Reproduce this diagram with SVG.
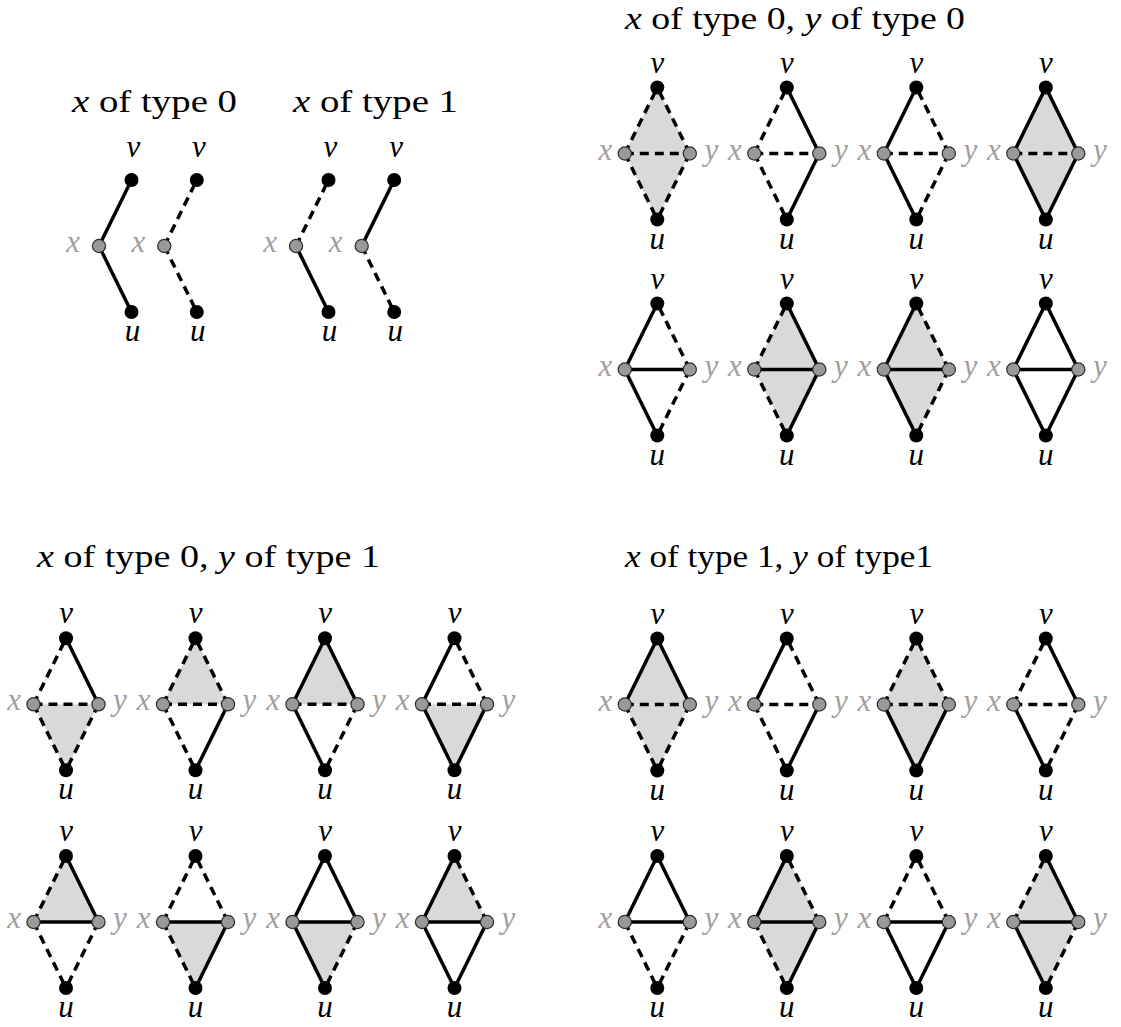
<svg xmlns="http://www.w3.org/2000/svg" xmlns:xlink="http://www.w3.org/1999/xlink" width="1121" height="1027" viewBox="0 0 1121 1027">
<style>
.e{fill:none;stroke:#000;stroke-width:3.5}
.d{stroke-dasharray:9 6}
.sh{fill:#d9d9d9;stroke:none}
.bn{fill:#000}
.gn{fill:#999;stroke:#2a2a2a;stroke-width:1.2}
.lb{font-family:"Liberation Serif",serif;font-style:italic;font-size:31px;text-anchor:middle;fill:#000}
.g{fill:#a0a0a0}
.t{font-family:"Liberation Serif",serif;font-size:32px;fill:#000}
.i{font-style:italic}
</style>
<defs>
<path id="up" d="M-32.5,0 L0,-66 L32.5,0 Z"/>
<path id="lo" d="M-32.5,0 L0,66 L32.5,0 Z"/>
<path id="exv" d="M-32.5,0 L0,-66"/>
<path id="eyv" d="M32.5,0 L0,-66"/>
<path id="exy" d="M-32.5,0 L32.5,0"/>
<path id="exu" d="M-32.5,0 L0,66"/>
<path id="eyu" d="M32.5,0 L0,66"/>
<circle id="bn" r="7"/>
<circle id="gn" r="6.6"/>
<g id="nodes">
<g><use href="#bn" class="bn" y="-66"/><text class="lb" y="-81">v</text></g>
<g><use href="#gn" class="gn" x="-32.5"/><text class="lb g" x="-52" y="6">x</text></g>
<g><use href="#gn" class="gn" x="32.5"/><text class="lb g" x="54" y="6">y</text></g>
<g><use href="#bn" class="bn" y="66"/><text class="lb" y="95">u</text></g>
</g>
<g id="pnodes">
<g><use href="#bn" class="bn" x="32.5" y="-66"/><text class="lb" x="34.5" y="-89">v</text></g>
<g><use href="#gn" class="gn"/><text class="lb g" x="-26" y="6">x</text></g>
<g><use href="#bn" class="bn" x="32.5" y="66"/><text class="lb" x="33.5" y="95">u</text></g>
</g>
</defs>

<g id="titles">
<text class="t" x="72" y="112" textLength="165" lengthAdjust="spacingAndGlyphs"><tspan class="i">x</tspan> of type 0</text>
<text class="t" x="293" y="112" textLength="165" lengthAdjust="spacingAndGlyphs"><tspan class="i">x</tspan> of type 1</text>
<text class="t" x="625" y="29" textLength="340" lengthAdjust="spacingAndGlyphs"><tspan class="i">x</tspan> of type 0, <tspan class="i">y</tspan> of type 0</text>
<text class="t" x="37" y="567" textLength="343" lengthAdjust="spacingAndGlyphs"><tspan class="i">x</tspan> of type 0, <tspan class="i">y</tspan> of type 1</text>
<text class="t" x="625" y="567" textLength="308" lengthAdjust="spacingAndGlyphs"><tspan class="i">x</tspan> of type 1, <tspan class="i">y</tspan> of type1</text>
</g>

<!-- top-left: single vertex x -->
<g id="p1" transform="translate(99,246)">
<g class="connectors"><path class="e" d="M0,0 L32.5,-66"/><path class="e" d="M0,0 L32.5,66"/></g>
<use href="#pnodes"/>
</g>
<g id="p2" transform="translate(164.3,246)">
<g class="connectors"><path class="e d" d="M0,0 L32.5,-66"/><path class="e d" d="M0,0 L32.5,66"/></g>
<use href="#pnodes"/>
</g>
<g id="p3" transform="translate(296,246)">
<g class="connectors"><path class="e d" d="M0,0 L32.5,-66"/><path class="e" d="M0,0 L32.5,66"/></g>
<use href="#pnodes"/>
</g>
<g id="p4" transform="translate(361.7,246)">
<g class="connectors"><path class="e" d="M0,0 L32.5,-66"/><path class="e d" d="M0,0 L32.5,66"/></g>
<use href="#pnodes"/>
</g>

<!-- top-right: x type 0, y type 0 -->
<g id="a1" transform="translate(657.3,153.5)">
<use href="#up" class="sh"/><use href="#lo" class="sh"/>
<g class="connectors"><use href="#exv" class="e d"/><use href="#eyv" class="e d"/><use href="#exy" class="e d"/><use href="#exu" class="e d"/><use href="#eyu" class="e d"/></g>
<use href="#nodes"/>
</g>
<g id="a2" transform="translate(786.8,153.5)">
<g class="connectors"><use href="#exv" class="e d"/><use href="#eyv" class="e"/><use href="#exy" class="e d"/><use href="#exu" class="e d"/><use href="#eyu" class="e"/></g>
<use href="#nodes"/>
</g>
<g id="a3" transform="translate(916.3,153.5)">
<g class="connectors"><use href="#exv" class="e"/><use href="#eyv" class="e d"/><use href="#exy" class="e d"/><use href="#exu" class="e"/><use href="#eyu" class="e d"/></g>
<use href="#nodes"/>
</g>
<g id="a4" transform="translate(1045.8,153.5)">
<use href="#up" class="sh"/><use href="#lo" class="sh"/>
<g class="connectors"><use href="#exv" class="e"/><use href="#eyv" class="e"/><use href="#exy" class="e d"/><use href="#exu" class="e"/><use href="#eyu" class="e"/></g>
<use href="#nodes"/>
</g>
<g id="a5" transform="translate(657.3,369.5)">
<g class="connectors"><use href="#exv" class="e"/><use href="#eyv" class="e d"/><use href="#exy" class="e"/><use href="#exu" class="e"/><use href="#eyu" class="e d"/></g>
<use href="#nodes"/>
</g>
<g id="a6" transform="translate(786.8,369.5)">
<use href="#up" class="sh"/><use href="#lo" class="sh"/>
<g class="connectors"><use href="#exv" class="e d"/><use href="#eyv" class="e"/><use href="#exy" class="e"/><use href="#exu" class="e d"/><use href="#eyu" class="e"/></g>
<use href="#nodes"/>
</g>
<g id="a7" transform="translate(916.3,369.5)">
<use href="#up" class="sh"/><use href="#lo" class="sh"/>
<g class="connectors"><use href="#exv" class="e"/><use href="#eyv" class="e d"/><use href="#exy" class="e"/><use href="#exu" class="e"/><use href="#eyu" class="e d"/></g>
<use href="#nodes"/>
</g>
<g id="a8" transform="translate(1045.8,369.5)">
<g class="connectors"><use href="#exv" class="e"/><use href="#eyv" class="e"/><use href="#exy" class="e"/><use href="#exu" class="e"/><use href="#eyu" class="e"/></g>
<use href="#nodes"/>
</g>

<!-- bottom-left: x type 0, y type 1 -->
<g id="b1" transform="translate(66,704.3)">
<use href="#lo" class="sh"/>
<g class="connectors"><use href="#exv" class="e d"/><use href="#eyv" class="e"/><use href="#exy" class="e d"/><use href="#exu" class="e d"/><use href="#eyu" class="e d"/></g>
<use href="#nodes"/>
</g>
<g id="b2" transform="translate(195.5,704.3)">
<use href="#up" class="sh"/>
<g class="connectors"><use href="#exv" class="e d"/><use href="#eyv" class="e d"/><use href="#exy" class="e d"/><use href="#exu" class="e d"/><use href="#eyu" class="e"/></g>
<use href="#nodes"/>
</g>
<g id="b3" transform="translate(325,704.3)">
<use href="#up" class="sh"/>
<g class="connectors"><use href="#exv" class="e"/><use href="#eyv" class="e"/><use href="#exy" class="e d"/><use href="#exu" class="e"/><use href="#eyu" class="e d"/></g>
<use href="#nodes"/>
</g>
<g id="b4" transform="translate(454.5,704.3)">
<use href="#lo" class="sh"/>
<g class="connectors"><use href="#exv" class="e"/><use href="#eyv" class="e d"/><use href="#exy" class="e d"/><use href="#exu" class="e"/><use href="#eyu" class="e"/></g>
<use href="#nodes"/>
</g>
<g id="b5" transform="translate(66,922)">
<use href="#up" class="sh"/>
<g class="connectors"><use href="#exv" class="e d"/><use href="#eyv" class="e"/><use href="#exy" class="e"/><use href="#exu" class="e d"/><use href="#eyu" class="e d"/></g>
<use href="#nodes"/>
</g>
<g id="b6" transform="translate(195.5,922)">
<use href="#lo" class="sh"/>
<g class="connectors"><use href="#exv" class="e d"/><use href="#eyv" class="e d"/><use href="#exy" class="e"/><use href="#exu" class="e d"/><use href="#eyu" class="e"/></g>
<use href="#nodes"/>
</g>
<g id="b7" transform="translate(325,922)">
<use href="#lo" class="sh"/>
<g class="connectors"><use href="#exv" class="e"/><use href="#eyv" class="e"/><use href="#exy" class="e"/><use href="#exu" class="e"/><use href="#eyu" class="e d"/></g>
<use href="#nodes"/>
</g>
<g id="b8" transform="translate(454.5,922)">
<use href="#up" class="sh"/>
<g class="connectors"><use href="#exv" class="e"/><use href="#eyv" class="e d"/><use href="#exy" class="e"/><use href="#exu" class="e"/><use href="#eyu" class="e"/></g>
<use href="#nodes"/>
</g>

<!-- bottom-right: x type 1, y type 1 -->
<g id="c1" transform="translate(657.3,704.5)">
<use href="#up" class="sh"/><use href="#lo" class="sh"/>
<g class="connectors"><use href="#exv" class="e"/><use href="#eyv" class="e"/><use href="#exy" class="e d"/><use href="#exu" class="e d"/><use href="#eyu" class="e d"/></g>
<use href="#nodes"/>
</g>
<g id="c2" transform="translate(786.8,704.5)">
<g class="connectors"><use href="#exv" class="e"/><use href="#eyv" class="e d"/><use href="#exy" class="e d"/><use href="#exu" class="e d"/><use href="#eyu" class="e"/></g>
<use href="#nodes"/>
</g>
<g id="c3" transform="translate(916.3,704.5)">
<use href="#up" class="sh"/><use href="#lo" class="sh"/>
<g class="connectors"><use href="#exv" class="e d"/><use href="#eyv" class="e d"/><use href="#exy" class="e d"/><use href="#exu" class="e"/><use href="#eyu" class="e"/></g>
<use href="#nodes"/>
</g>
<g id="c4" transform="translate(1045.8,704.5)">
<g class="connectors"><use href="#exv" class="e d"/><use href="#eyv" class="e"/><use href="#exy" class="e d"/><use href="#exu" class="e"/><use href="#eyu" class="e d"/></g>
<use href="#nodes"/>
</g>
<g id="c5" transform="translate(657.3,922)">
<g class="connectors"><use href="#exv" class="e"/><use href="#eyv" class="e"/><use href="#exy" class="e"/><use href="#exu" class="e d"/><use href="#eyu" class="e d"/></g>
<use href="#nodes"/>
</g>
<g id="c6" transform="translate(786.8,922)">
<use href="#up" class="sh"/><use href="#lo" class="sh"/>
<g class="connectors"><use href="#exv" class="e"/><use href="#eyv" class="e d"/><use href="#exy" class="e"/><use href="#exu" class="e d"/><use href="#eyu" class="e"/></g>
<use href="#nodes"/>
</g>
<g id="c7" transform="translate(916.3,922)">
<g class="connectors"><use href="#exv" class="e d"/><use href="#eyv" class="e d"/><use href="#exy" class="e"/><use href="#exu" class="e"/><use href="#eyu" class="e"/></g>
<use href="#nodes"/>
</g>
<g id="c8" transform="translate(1045.8,922)">
<use href="#up" class="sh"/><use href="#lo" class="sh"/>
<g class="connectors"><use href="#exv" class="e d"/><use href="#eyv" class="e"/><use href="#exy" class="e"/><use href="#exu" class="e"/><use href="#eyu" class="e d"/></g>
<use href="#nodes"/>
</g>
</svg>
